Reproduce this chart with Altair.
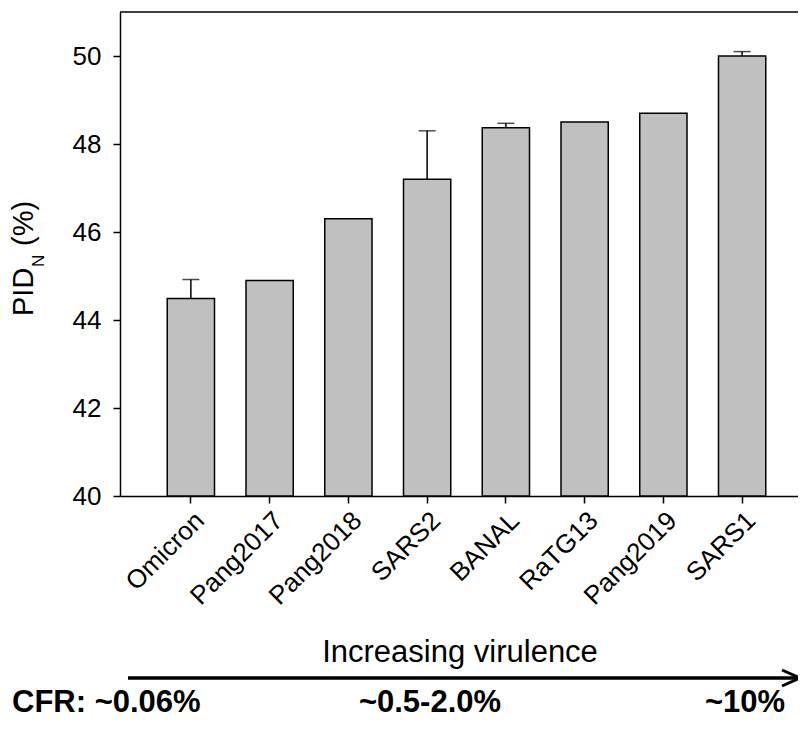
import altair as alt
import pandas as pd

# ---- data ----
strains = ["Omicron", "Pang2017", "Pang2018", "SARS2", "BANAL", "RaTG13", "Pang2019", "SARS1"]
pid_n = [44.49, 44.9, 46.3, 47.2, 48.37, 48.5, 48.7, 50.0]
pid_err = [0.43, 0.0, 0.0, 1.1, 0.1, 0.0, 0.0, 0.1]
y_ticks = [40, 42, 44, 46, 48, 50]

cfr_labels = ["CFR: ~0.06%", "~0.5-2.0%", "~10%"]
arrow_label = ["Increasing virulence"]

FONT = "Liberation Sans"
W, H = 678, 484

df = pd.DataFrame({"strain": strains, "pid": pid_n, "err": pid_err})
df["top"] = df["pid"] + df["err"]
err_df = df[df["err"] > 0]

xenc = alt.X(
    "strain:N", sort=strains, title=None,
    scale=alt.Scale(range=[0, 693], paddingInner=0.4, paddingOuter=0.6),
    axis=alt.Axis(labelAngle=-45, labelAlign="right", labelBaseline="top",
                  labelFontSize=26, labelFont=FONT, labelColor="black",
                  labelPadding=4, tickSize=7, tickColor="black", tickWidth=1.5,
                  domainColor="black", domainWidth=1.5, grid=False),
)
yscale = alt.Scale(domain=[40, 51], zero=False, nice=False)

bars = alt.Chart(df).mark_bar(color="#c0c0c0", stroke="black", strokeWidth=1.5).encode(
    x=xenc,
    y=alt.Y("pid:Q", scale=yscale, title=None,
            axis=alt.Axis(values=y_ticks, labelFontSize=26, labelFont=FONT,
                          labelColor="black", labelPadding=12, tickSize=7,
                          tickColor="black", tickWidth=1.5, domainColor="black",
                          domainWidth=1.5, grid=False)),
    y2=alt.datum(40),
)

err_rule = alt.Chart(err_df).mark_rule(color="black", strokeWidth=1.5).encode(
    x=alt.X("strain:N", sort=strains),
    y=alt.Y("pid:Q", scale=yscale),
    y2="top:Q",
)
err_cap = alt.Chart(err_df).mark_tick(color="black", size=17, thickness=1.5).encode(
    x=alt.X("strain:N", sort=strains),
    y=alt.Y("top:Q", scale=yscale),
)

one = pd.DataFrame({"a": [0]})

top_line = alt.Chart(one).mark_rule(color="black", strokeWidth=1.5).encode(
    x=alt.value(0), x2=alt.value(W + 10), y=alt.value(0), y2=alt.value(0))

# y-axis title PID_N (%)
t_pid = alt.Chart(pd.DataFrame({"t": ["PID"]})).mark_text(
    angle=270, align="left", baseline="alphabetic", fontSize=29, font=FONT, color="black"
).encode(text="t:N", x=alt.value(-87), y=alt.value(304))
t_n = alt.Chart(pd.DataFrame({"t": ["N"]})).mark_text(
    angle=270, align="left", baseline="alphabetic", fontSize=17, font=FONT, color="black"
).encode(text="t:N", x=alt.value(-76), y=alt.value(255))
t_pct = alt.Chart(pd.DataFrame({"t": ["(%)"]})).mark_text(
    angle=270, align="left", baseline="alphabetic", fontSize=29, font=FONT, color="black"
).encode(text="t:N", x=alt.value(-87), y=alt.value(234))

# virulence arrow
arr_text = alt.Chart(pd.DataFrame({"t": arrow_label})).mark_text(
    fontSize=31, font=FONT, color="black", align="center", baseline="middle"
).encode(text="t:N", x=alt.value(340), y=alt.value(641))
arr_line = alt.Chart(one).mark_rule(color="black", strokeWidth=3.5).encode(
    x=alt.value(8), x2=alt.value(W), y=alt.value(666), y2=alt.value(666))
arr_head1 = alt.Chart(one).mark_rule(color="black", strokeWidth=3).encode(
    x=alt.value(W - 16), x2=alt.value(W + 2), y=alt.value(658), y2=alt.value(666))
arr_head2 = alt.Chart(one).mark_rule(color="black", strokeWidth=3).encode(
    x=alt.value(W - 16), x2=alt.value(W + 2), y=alt.value(674), y2=alt.value(666))

cfr1 = alt.Chart(pd.DataFrame({"t": [cfr_labels[0]]})).mark_text(
    fontSize=31, font=FONT, fontWeight="bold", color="black", align="left", baseline="alphabetic"
).encode(text="t:N", x=alt.value(-108), y=alt.value(700))
cfr2 = alt.Chart(pd.DataFrame({"t": [cfr_labels[1]]})).mark_text(
    fontSize=31, font=FONT, fontWeight="bold", color="black", align="center", baseline="alphabetic"
).encode(text="t:N", x=alt.value(310), y=alt.value(700))
cfr3 = alt.Chart(pd.DataFrame({"t": [cfr_labels[2]]})).mark_text(
    fontSize=31, font=FONT, fontWeight="bold", color="black", align="center", baseline="alphabetic"
).encode(text="t:N", x=alt.value(625), y=alt.value(700))

chart = alt.layer(
    bars, err_rule, err_cap, top_line, t_pid, t_n, t_pct,
    arr_text, arr_line, arr_head1, arr_head2, cfr1, cfr2, cfr3,
).properties(
    width=W, height=H,
    autosize=alt.AutoSizeParams(type="none"),
    padding={"left": 112, "top": 4, "right": 0, "bottom": 224},
    background="white",
).configure_view(stroke=None)

chart.save("out.html", embed_options={"renderer": "svg", "actions": False})
